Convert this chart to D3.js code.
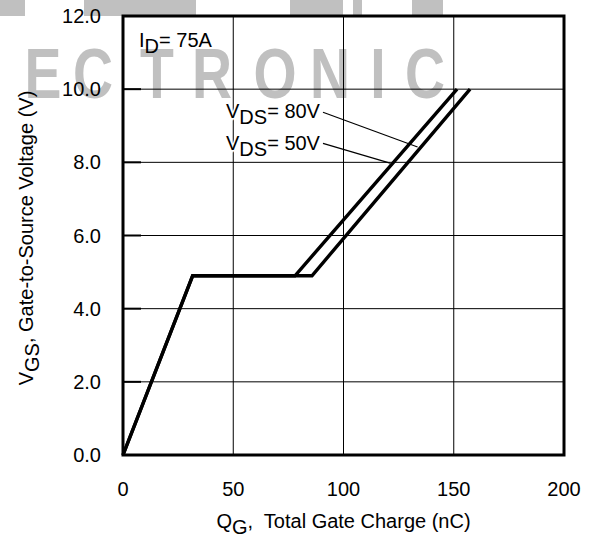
<!DOCTYPE html>
<html>
<head>
  <style>
    body {
      margin: 0;
      background: #fff;
    }
    text {
      font-family: "Liberation Sans", Arial, sans-serif;
      font-size: 20px;
    }
    .grid line {
      stroke: #000;
      stroke-width: 1px;
    }
    .curve {
      fill: none;
      stroke: #000;
      stroke-width: 3.4px;
      stroke-linejoin: miter;
    }
    .frame {
      fill: none;
      stroke: #000;
      stroke-width: 3px;
    }
    .leader {
      stroke: #000;
      stroke-width: 1.2px;
    }
    .halo {
      paint-order: stroke;
      stroke: #fff;
      stroke-width: 3px;
    }
  </style>
</head>
<body>
  <script src="https://d3js.org/d3.v7.min.js"></script>
  <script>
    // gate charge curves
    var qg50 = [0, 31.6, 78, 151.5],
        vgs50 = [0, 4.9, 4.9, 10];
    var qg80 = [0, 31.6, 85.7, 157.4],
        vgs80 = [0, 4.9, 4.9, 10];

    var xTicks = [0, 50, 100, 150, 200],
        yTicks = [0, 2, 4, 6, 8, 10, 12],
        yTickLabels = ["0.0", "2.0", "4.0", "6.0", "8.0", "10.0", "12.0"];

    // label leaders: [labelQ, labelV, curveQ, curveV]
    var leader80 = [90.7, 9.37, 133.6, 8.42],
        leader50 = [90.7, 8.52, 121.1, 7.98];

    // background watermark
    var wmLetters = ["L", "E", "C", "T", "R", "O", "N", "I", "C"],
        wmCenters = [-18, 43, 93, 157, 212, 275, 330, 378, 425];
    var wmBlocks = [[0, 25], [84, 196], [290, 343], [353, 362], [412, 443]];

    var width = 593, height = 537;

    var svg = d3.select("body").append("svg")
        .attr("width", width)
        .attr("height", height);

    var x = d3.scaleLinear().domain([0, 200]).range([123, 564]);
    var y = d3.scaleLinear().domain([0, 12]).range([455, 16]);

    // watermark first so everything else sits on top
    var wm = svg.append("g").attr("fill", "#c0c0c0");
    wm.selectAll("rect")
        .data(wmBlocks)
      .enter().append("rect")
        .attr("x", d => d[0])
        .attr("y", 0)
        .attr("width", d => d[1] - d[0])
        .attr("height", 16);
    wm.selectAll("text")
        .data(wmLetters)
      .enter().append("text")
        .attr("transform", (d, i) => "translate(" + wmCenters[i] + ",98) scale(0.78,1)")
        .attr("text-anchor", "middle")
        .style("font-weight", "bold")
        .style("font-size", "71px")
        .text(d => d);

    // grid
    var grid = svg.append("g").attr("class", "grid");
    grid.selectAll(".gx")
        .data(xTicks.slice(1, -1))
      .enter().append("line")
        .attr("x1", d => x(d)).attr("x2", d => x(d))
        .attr("y1", y(0)).attr("y2", y(12));
    grid.selectAll(".gy")
        .data(yTicks.slice(1, -1))
      .enter().append("line")
        .attr("x1", x(0)).attr("x2", x(200))
        .attr("y1", d => y(d)).attr("y2", d => y(d));

    // short inner ticks on the y side
    svg.append("g").selectAll("line")
        .data(yTicks.slice(1, -1))
      .enter().append("line")
        .attr("x1", x(0)).attr("x2", x(0) + 18)
        .attr("y1", d => y(d)).attr("y2", d => y(d))
        .attr("stroke", "#000")
        .attr("stroke-width", 2);

    // tick labels
    svg.append("g").selectAll("text")
        .data(xTicks)
      .enter().append("text")
        .attr("x", d => x(d))
        .attr("y", 496)
        .attr("text-anchor", "middle")
        .text(d => d);

    svg.append("g").selectAll("text")
        .data(yTicks)
      .enter().append("text")
        .attr("x", 101)
        .attr("y", d => y(d) + 7)
        .attr("text-anchor", "end")
        .text((d, i) => yTickLabels[i]);

    // curves
    var line = d3.line()
        .x(d => x(d[0]))
        .y(d => y(d[1]));

    svg.append("path")
        .attr("class", "curve")
        .attr("d", line(d3.zip(qg50, vgs50)));
    svg.append("path")
        .attr("class", "curve")
        .attr("d", line(d3.zip(qg80, vgs80)));

    // leaders
    [leader80, leader50].forEach(function(l) {
      svg.append("line")
          .attr("class", "leader")
          .attr("x1", x(l[0])).attr("y1", y(l[1]))
          .attr("x2", x(l[2])).attr("y2", y(l[3]));
    });

    // frame
    svg.append("rect")
        .attr("class", "frame")
        .attr("x", x(0))
        .attr("y", y(12))
        .attr("width", x(200) - x(0))
        .attr("height", y(0) - y(12));

    // annotations with subscripts
    function subLabel(px, py, main, sub, rest, cls) {
      var t = svg.append("text")
          .attr("x", px)
          .attr("y", py);
      if (cls) t.attr("class", cls);
      t.append("tspan").text(main);
      t.append("tspan").attr("dy", 6).text(sub);
      t.append("tspan").attr("dy", -6).text(rest);
      return t;
    }

    subLabel(139, 47, "I", "D", "= 75A");
    subLabel(226, 118, "V", "DS", "= 80V", "halo");
    subLabel(226, 150, "V", "DS", "= 50V", "halo");

    // axis titles
    var xt = svg.append("text")
        .attr("x", x(100))
        .attr("y", 528)
        .attr("text-anchor", "middle");
    xt.append("tspan").text("Q");
    xt.append("tspan").attr("dy", 6).text("G");
    xt.append("tspan").attr("dy", -6).attr("xml:space", "preserve").text(",  Total Gate Charge (nC)");

    var yt = svg.append("text")
        .attr("transform", "translate(33,238) rotate(-90)")
        .attr("text-anchor", "middle");
    yt.append("tspan").text("V");
    yt.append("tspan").attr("dy", 6).text("GS");
    yt.append("tspan").attr("dy", -6).text(", Gate-to-Source Voltage (V)");
  </script>
</body>
</html>
